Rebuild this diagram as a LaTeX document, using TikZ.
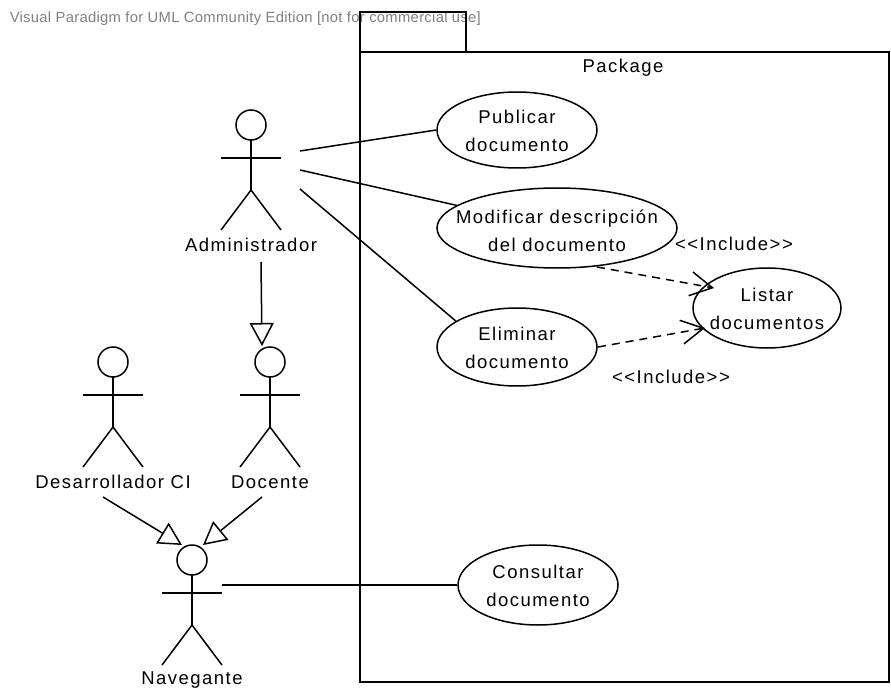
\documentclass[tikz,border=0pt]{standalone}
\usepackage{fontspec}
\newfontfamily\vpfont[LetterSpace=8]{Liberation Sans}
\newfontfamily\wmfont[LetterSpace=2]{Liberation Sans}
\usetikzlibrary{arrows.meta,shapes.geometric}
\begin{document}
\begin{tikzpicture}[x=1pt,y=-1pt,line width=1.5pt,
  ucshape/.style={draw,ellipse,inner sep=0pt},
  uctext/.style={align=center,inner sep=0pt,font=\vpfont\fontsize{18.5}{28}\selectfont},
  lbl/.style={inner sep=0pt,font=\vpfont\fontsize{18.5}{22}\selectfont},
  assoc/.style={draw},
  gen/.style={draw,-{Triangle[open,length=23pt,width=24pt,fill=white,line width=1.5pt]}},
  incl/.style={draw,dash pattern=on 8pt off 6pt,-{Straight Barb[length=22pt,width=24pt,line width=1.5pt]}},
  actor/.pic={
    \draw (0,0) circle (15pt);
    \draw (0,15) -- (0,65);
    \draw (-30,33) -- (30,33);
    \draw (-30,105) -- (0,65) -- (30,105);
  }]
\useasboundingbox (0,0) rectangle (891,695);
% watermark
\node[anchor=west,inner sep=0pt,text=black!50,font=\wmfont\fontsize{14.8}{16}\selectfont] (wm) at (9,19) {Visual Paradigm for UML Community Edition [not for commercial use]};
% package
\draw (360,12) rectangle (466,52);
\draw (360,52) rectangle (889,682);
\node[lbl] (pkg) at (623,68) {Package};
% use cases
\node[ucshape,minimum width=160pt,minimum height=76pt] (pub) at (517,130) {};
\node[uctext] (pubt) at (517,131) {Publicar\\documento};
\node[ucshape,minimum width=240pt,minimum height=80pt] (modif) at (557,228) {};
\node[uctext] (modift) at (557,231) {Modificar descripción\\del documento};
\node[ucshape,minimum width=160pt,minimum height=78pt] (elim) at (517,347) {};
\node[uctext] (elimt) at (517,348) {Eliminar\\documento};
\node[ucshape,minimum width=148pt,minimum height=80pt] (listar) at (767,308) {};
\node[uctext] (listart) at (767,309) {Listar\\documentos};
\node[ucshape,minimum width=160pt,minimum height=80pt] (cons) at (538,585) {};
\node[uctext] (const) at (538,586) {Consultar\\documento};
% actors
\pic at (251,125) {actor};
\node[lbl] (adm) at (251,245) {Administrador};
\pic at (270,362) {actor};
\node[lbl] (doc) at (270,482) {Docente};
\pic at (113,362) {actor};
\node[lbl] (des) at (113,482) {Desarrollador CI};
\pic at (192,560) {actor};
\node[lbl] (nav) at (192,680) {Navegante};
% connector end points
\coordinate (admA) at (300,151);
\coordinate (admB) at (300,170);
\coordinate (admC) at (300,189);
\coordinate (admG) at (261,262);
\coordinate (docTop) at (262,346);
\coordinate (desG) at (103,497);
\coordinate (docG) at (262,497);
\coordinate (navL) at (182,545);
\coordinate (navR) at (203,545);
\coordinate (navA) at (222,585);
\coordinate (inc1s) at (597,267);
\coordinate (inc1e) at (714,288);
\coordinate (inc2s) at (598,347);
\coordinate (inc2e) at (705,328);
% associations
\draw[assoc] (admA) -- (pub.west);
\draw[assoc] (admB) -- (modif);
\draw[assoc] (admC) -- (elim.157);
\draw[assoc] (navA) -- (cons.west);
% generalizations
\draw[gen] (admG) -- (docTop);
\draw[gen] (desG) -- (navL);
\draw[gen] (docG) -- (navR);
% includes
\draw[incl] (inc1s) -- (inc1e);
\draw[incl] (inc2s) -- (inc2e);
\node[lbl] (i1) at (734,244) {<<Include>>};
\node[lbl] (i2) at (671,377) {<<Include>>};
\end{tikzpicture}
\end{document}
